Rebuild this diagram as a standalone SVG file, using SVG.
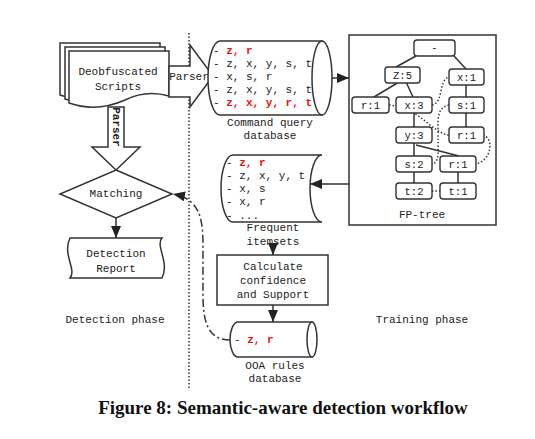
<svg xmlns="http://www.w3.org/2000/svg" width="535" height="439" viewBox="0 0 535 439">
<style>
.s{fill:#fff;stroke:#333;stroke-width:1.5}
.n{fill:none;stroke:#333;stroke-width:1.5}
.t{font-family:"Liberation Mono",monospace;font-size:11px;fill:#222}
.c{text-anchor:middle}
.r{fill:#e8100e;font-weight:bold}
.dot{fill:none;stroke:#333;stroke-width:1.5;stroke-dasharray:1.5 2}
.nd{fill:#fff;stroke:#333;stroke-width:1.4}
.nt{font-family:"Liberation Mono",monospace;font-size:10.5px;fill:#222;text-anchor:middle}
</style>
<defs>
<marker id="ah" markerUnits="userSpaceOnUse" markerWidth="14" markerHeight="10" refX="12" refY="5" orient="auto">
<path d="M0,0 L12,5 L0,10 Z" fill="#222"/>
</marker>
</defs>

<line x1="189" y1="33" x2="189" y2="388" class="dot"/>

<g id="scripts">
<path class="s" d="M60,43 H160 V88 C146,84 132,84 116,92 C98,100 80,102 60,95 Z"/>
<path class="s" d="M65,47 H165 V92 C151,88 137,88 121,96 C103,104 85,106 65,99 Z"/>
<path class="s" d="M69,51 H169 V96 C155,92 141,92 125,100 C107,108 89,110 69,103 Z"/>
<text class="t c" x="118" y="75">Deobfuscated</text>
<text class="t c" x="118" y="90">Scripts</text>
</g>

<g id="parser-right">
<path class="s" d="M169,66 H190 V45 L213,76 L190,107 V97 H169 Z"/>
<text class="t c" x="189" y="80">Parser</text>
</g>

<g id="parser-down">
<path class="s" d="M108,107 H124 V147 H140 L116,170 L92,147 H108 Z"/>
<text class="t c" transform="translate(112.5,127) rotate(90)" font-size="10" font-weight="bold">Parser</text>
</g>

<g id="matching">
<path class="s" d="M116,170 L172,194 L116,218 L60,194 Z"/>
<text class="t c" x="116" y="197">Matching</text>
</g>

<g id="report">
<path class="s" d="M70,238 H162 C155,246 170,262 162,278 H70 C77,270 62,254 70,238 Z"/>
<text class="t c" x="116" y="257">Detection</text>
<text class="t c" x="116" y="272">Report</text>
</g>

<text class="t c" x="115" y="323">Detection phase</text>
<text class="t c" x="422" y="323">Training phase</text>

<g id="cmd-db">
<path class="s" d="M220,41 H322 V115 H220 A12,37 0 0 1 220,41 Z"/>
<text class="t" x="213" y="54">- <tspan class="r">z, r</tspan></text>
<text class="t" x="213" y="67">- z, x, y, s, t</text>
<text class="t" x="213" y="80">- x, s, r</text>
<text class="t" x="213" y="93">- z, x, y, s, t</text>
<text class="t" x="213" y="106">- <tspan class="r">z, x, y, r, t</tspan></text>
<ellipse class="s" cx="322" cy="78" rx="10" ry="37"/>
<text class="t c" x="270" y="126">Command query</text>
<text class="t c" x="270" y="139">database</text>
</g>

<g id="fp-tree">
<rect x="349" y="35" width="147" height="190" class="n"/>
<g class="n">
<line x1="416" y1="56" x2="396" y2="67"/>
<line x1="454" y1="56" x2="466" y2="69"/>
<line x1="399" y1="82" x2="374" y2="97"/>
<line x1="406" y1="82" x2="413" y2="97"/>
<line x1="466" y1="84" x2="466" y2="97"/>
<line x1="466" y1="113" x2="466" y2="127"/>
<line x1="414" y1="113" x2="414" y2="127"/>
<line x1="414" y1="143" x2="414" y2="156"/>
<line x1="416" y1="145" x2="459" y2="156"/>
<line x1="414" y1="172" x2="414" y2="183"/>
<line x1="458" y1="172" x2="458" y2="183"/>
</g>
<g class="dot" stroke-width="1.3">
<path d="M389,105 C410,107 420,117 430,125 C438,131 442,134 449,135"/>
<path d="M432,105 C444,103 438,80 449,77"/>
<path d="M449,105 C437,108 438,118 438,130 C438,150 440,163 432,164"/>
<path d="M483,135 C494,138 492,160 476,164"/>
<path d="M432,191 H440"/>
</g>
<g id="n-root"><rect class="nd" x="414" y="40" width="41" height="16" rx="3"/><text class="nt" x="434.5" y="51">-</text></g>
<g id="n-z5"><rect class="nd" x="385" y="67" width="35" height="16" rx="3"/><text class="nt" x="402.5" y="78.5">Z:5</text></g>
<g id="n-x1"><rect class="nd" x="449" y="69" width="35" height="16" rx="3"/><text class="nt" x="466.5" y="80.5">x:1</text></g>
<g id="n-r1a"><rect class="nd" x="352" y="97" width="37" height="16" rx="3"/><text class="nt" x="370.5" y="108.5">r:1</text></g>
<g id="n-x3"><rect class="nd" x="396" y="97" width="36" height="16" rx="3"/><text class="nt" x="414" y="108.5">x:3</text></g>
<g id="n-s1"><rect class="nd" x="449" y="97" width="35" height="16" rx="3"/><text class="nt" x="466.5" y="108.5">s:1</text></g>
<g id="n-y3"><rect class="nd" x="396" y="127" width="36" height="16" rx="3"/><text class="nt" x="414" y="138.5">y:3</text></g>
<g id="n-r1b"><rect class="nd" x="449" y="127" width="35" height="16" rx="3"/><text class="nt" x="466.5" y="138.5">r:1</text></g>
<g id="n-s2"><rect class="nd" x="396" y="156" width="36" height="16" rx="3"/><text class="nt" x="414" y="167.5">s:2</text></g>
<g id="n-r1c"><rect class="nd" x="440" y="156" width="36" height="16" rx="3"/><text class="nt" x="458" y="167.5">r:1</text></g>
<g id="n-t2"><rect class="nd" x="396" y="183" width="36" height="16" rx="3"/><text class="nt" x="414" y="194.5">t:2</text></g>
<g id="n-t1"><rect class="nd" x="440" y="183" width="36" height="16" rx="3"/><text class="nt" x="458" y="194.5">t:1</text></g>
<text class="t c" x="422" y="218">FP-tree</text>
</g>

<g id="freq">
<path class="s" d="M233,155 H322 A12,33.5 0 0 0 322,222 H233 A12,33.5 0 0 1 233,155 Z"/>
<text class="t" x="226" y="166">- <tspan class="r">z, r</tspan></text>
<text class="t" x="226" y="179">- z, x, y, t</text>
<text class="t" x="226" y="192">- x, s</text>
<text class="t" x="226" y="205">- x, r</text>
<text class="t" x="226" y="219">- ...</text>
<text class="t c" x="273" y="231">Frequent</text>
<text class="t c" x="273" y="245">itemsets</text>
</g>

<g id="calc">
<rect class="s" x="217" y="255" width="111" height="50"/>
<text class="t c" x="273" y="270">Calculate</text>
<text class="t c" x="273" y="284">confidence</text>
<text class="t c" x="273" y="298">and Support</text>
</g>

<g id="ooa">
<path class="s" d="M238,322 H312 V357 H238 A8,17.5 0 0 1 238,322 Z"/>
<ellipse class="s" cx="312" cy="339.5" rx="5" ry="17.5"/>
<text class="t" x="234" y="343">- <tspan class="r">z, r</tspan></text>
<text class="t c" x="275" y="369">OOA rules</text>
<text class="t c" x="275" y="382">database</text>
</g>

<g id="connectors" class="n" fill="none">
<line x1="116" y1="218" x2="116" y2="238" marker-end="url(#ah)"/>
<line x1="332" y1="78" x2="349" y2="78" marker-end="url(#ah)"/>
<line x1="349" y1="184" x2="310" y2="184" marker-end="url(#ah)"/>
<line x1="273" y1="246" x2="273" y2="255" marker-end="url(#ah)"/>
<line x1="273" y1="305" x2="273" y2="322" marker-end="url(#ah)"/>
<path d="M230,340 C208,340 203,322 203,295 L203,245 C203,215 198,199 173,194" stroke-dasharray="8 3 2 3" marker-end="url(#ah)"/>
</g>

<text x="283" y="414" font-family="Liberation Serif,serif" font-weight="bold" font-size="19" text-anchor="middle" fill="#111">Figure 8: Semantic-aware detection workflow</text>
</svg>
